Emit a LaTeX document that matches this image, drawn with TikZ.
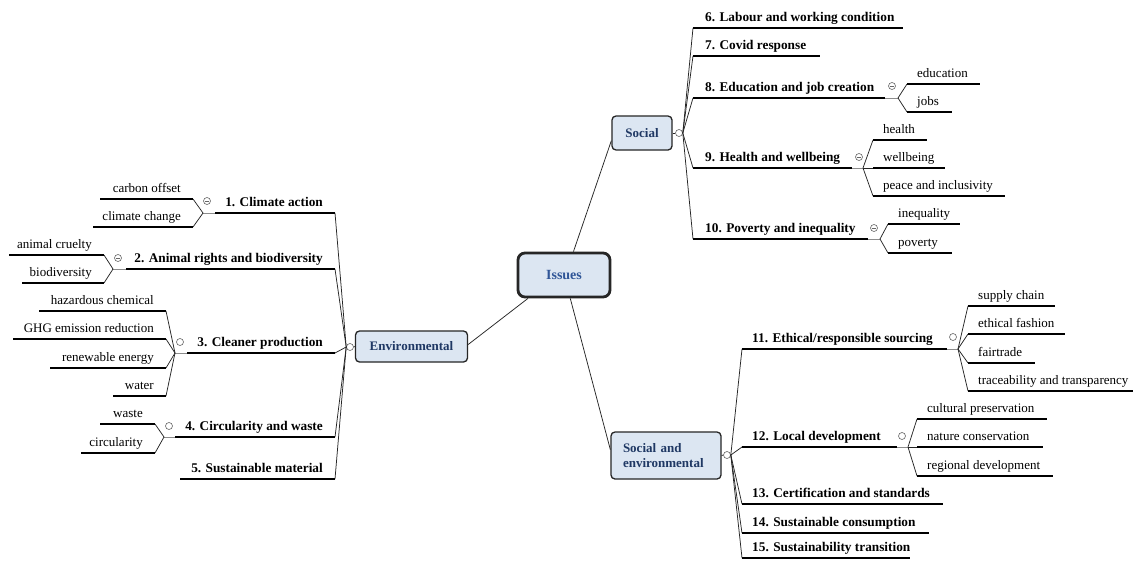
\documentclass[tikz,border=0pt]{standalone}
\usepackage{fontspec}
\setmainfont{Liberation Serif}
\definecolor{boxfill}{HTML}{DCE6F2}
\definecolor{navy}{HTML}{1F3864}
\definecolor{issuesblue}{HTML}{2F5597}
\newcommand\mfont{\fontsize{13}{15}\selectfont\bfseries}
\newcommand\ifont{\fontsize{14}{16}\selectfont\bfseries}
\newcommand\tfont{\fontsize{13.3}{15}\selectfont\bfseries}
\newcommand\sfont{\fontsize{13}{15}\selectfont}
% right item: from, x start, x end, y, text, name, style, text offset
\newcommand\ritem[8]{%
  \coordinate (#6s) at (#2,#4); \coordinate (#6e) at (#3,#4);
  \draw[conn] (#1) -- (#6s); \draw[uline] (#6s) -- (#6e);
  \node[#7, anchor=base west] (#6) at ([xshift=#8pt,yshift=7pt]#6s) {#5};}
% left item: from, x right, x left, y, text, name, style, text offset
\newcommand\litem[8]{%
  \coordinate (#6e) at (#2,#4); \coordinate (#6s) at (#3,#4);
  \draw[conn] (#1) -- (#6e); \draw[uline] (#6s) -- (#6e);
  \node[#7, anchor=base east] (#6) at ([xshift=-#8pt,yshift=7pt]#6e) {#5};}
\begin{document}
\begin{tikzpicture}[x=1pt,y=-1pt,
  mainbox/.style={draw=black!85, line width=1.3pt, rounded corners=4pt, fill=boxfill, font=\mfont, text=navy, inner sep=0pt, align=left},
  topic/.style={font=\tfont, inner sep=0pt},
  sub/.style={font=\sfont, inner sep=0pt},
  uline/.style={line width=2.5pt, black},
  conn/.style={line width=0.75pt, black!85},
  stub/.style={line width=0.75pt, black!45},
  knob/.style={circle, draw=black!60, line width=0.6pt, fill=white, minimum size=7pt, inner sep=0pt},
  knobm/.style={knob, path picture={\draw[black!60, line width=0.5pt] ([xshift=1.4pt]path picture bounding box.west) -- ([xshift=-1.4pt]path picture bounding box.east);}},
]
\useasboundingbox[fill=white] (0,0) rectangle (1135,560);

% main boxes
\node[mainbox, line width=2.8pt, rounded corners=7pt, minimum width=92pt, minimum height=44pt, font=\ifont, text=issuesblue] (issues) at (564,275) {Issues};
\node[mainbox, minimum width=60pt, minimum height=34pt] (social) at (642,133) {Social};
\node[mainbox, minimum width=112pt, minimum height=31pt] (env) at (411.5,346.5) {Environmental};
\node[mainbox, minimum width=110pt, minimum height=47pt, text width=86pt] (se) at (666,455.5) {Social and\\environmental};

\draw[conn] (issues.68) -- (social.194);
\draw[conn] (issues.213) -- (env.2);
\draw[conn] (issues.285) -- (se.174);

% knobs of main branches
\node[knob] (sk) at (679,133) {};
\draw[conn] (social.east) -- (sk.west);
\node[knob] (ek) at (350,347) {};
\draw[conn] (env.west) -- (ek.east);
\node[knob] (sek) at (727,455) {};
\draw[conn] (se.east) -- (sek.west);

% ---------- Environmental ----------
\litem{ek.west}{335}{215}{213}{1. Climate action}{t1}{topic}{12}
\litem{ek.west}{335}{126}{269}{2. Animal rights and biodiversity}{t2}{topic}{12}
\litem{ek.west}{335}{187}{353}{3. Cleaner production}{t3}{topic}{12}
\litem{ek.west}{335}{175}{437}{4. Circularity and waste}{t4}{topic}{12}
\litem{ek.west}{335}{180}{479}{5. Sustainable material}{t5}{topic}{12}

\coordinate (f1) at (203,213); \draw[stub] (t1s) -- (f1);
\litem{f1}{193}{100}{199}{carbon offset}{s1a}{sub}{12}
\litem{f1}{193}{93}{227}{climate change}{s1b}{sub}{12}
\node[knobm] (k1) at (207,201) {};

\coordinate (f2) at (113,269); \draw[stub] (t2s) -- (f2);
\litem{f2}{104}{9}{255}{animal cruelty}{s2a}{sub}{12}
\litem{f2}{104}{22}{283}{biodiversity}{s2b}{sub}{12}
\node[knobm] (k2) at (118,258) {};

\coordinate (f3) at (175,353); \draw[stub] (t3s) -- (f3);
\litem{f3}{166}{39}{311}{hazardous chemical}{s3a}{sub}{12}
\litem{f3}{166}{13}{339}{GHG emission reduction}{s3b}{sub}{12}
\litem{f3}{166}{50}{368}{renewable energy}{s3c}{sub}{12}
\litem{f3}{166}{113}{396}{water}{s3d}{sub}{12}
\node[knob] (k3) at (180,342) {};

\coordinate (f4) at (164,437); \draw[stub] (t4s) -- (f4);
\litem{f4}{155}{100}{424}{waste}{s4a}{sub}{12}
\litem{f4}{155}{81}{453}{circularity}{s4b}{sub}{12}
\node[knob] (k4) at (169,426) {};

% ---------- Social ----------
\ritem{sk.east}{693}{903}{28}{6. Labour and working condition}{t6}{topic}{12}
\ritem{sk.east}{693}{820}{56}{7. Covid response}{t7}{topic}{12}
\ritem{sk.east}{693}{885}{98}{8. Education and job creation}{t8}{topic}{12}
\ritem{sk.east}{693}{852}{168}{9. Health and wellbeing}{t9}{topic}{12}
\ritem{sk.east}{693}{868}{239}{10. Poverty and inequality}{t10}{topic}{12}

\coordinate (f8) at (898,98); \draw[stub] (t8e) -- (f8);
\ritem{f8}{907}{980}{84}{education}{s8a}{sub}{10}
\ritem{f8}{907}{952}{112}{jobs}{s8b}{sub}{10}
\node[knobm] (k8) at (892,86) {};

\coordinate (f9) at (863,168); \draw[stub] (t9e) -- (f9);
\ritem{f9}{873}{927}{140}{health}{s9a}{sub}{10}
\ritem{f9}{873}{945}{168}{wellbeing}{s9b}{sub}{10}
\ritem{f9}{873}{1005}{196}{peace and inclusivity}{s9c}{sub}{10}
\node[knobm] (k9) at (859,157) {};

\coordinate (f10) at (880,239); \draw[stub] (t10e) -- (f10);
\ritem{f10}{888}{960}{224}{inequality}{s10a}{sub}{10}
\ritem{f10}{888}{952}{253}{poverty}{s10b}{sub}{10}
\node[knobm] (k10) at (874,228) {};

% ---------- Social and environmental ----------
\ritem{sek.east}{742}{947}{349}{11. Ethical/responsible sourcing}{t11}{topic}{10}
\ritem{sek.east}{742}{897}{447}{12. Local development}{t12}{topic}{10}
\ritem{sek.east}{742}{943}{504}{13. Certification and standards}{t13}{topic}{10}
\ritem{sek.east}{742}{929}{533}{14. Sustainable consumption}{t14}{topic}{10}
\ritem{sek.east}{742}{910}{558}{15. Sustainability transition}{t15}{topic}{10}

\coordinate (f11) at (958,349); \draw[stub] (t11e) -- (f11);
\ritem{f11}{968}{1055}{306}{supply chain}{s11a}{sub}{10}
\ritem{f11}{968}{1065}{334}{ethical fashion}{s11b}{sub}{10}
\ritem{f11}{968}{1035}{363}{fairtrade}{s11c}{sub}{10}
\ritem{f11}{968}{1133}{391}{traceability and transparency}{s11d}{sub}{10}
\node[knob] (k11) at (953,337) {};

\coordinate (f12) at (908,447); \draw[stub] (t12e) -- (f12);
\ritem{f12}{917}{1047}{419}{cultural preservation}{s12a}{sub}{10}
\ritem{f12}{917}{1043}{447}{nature conservation}{s12b}{sub}{10}
\ritem{f12}{917}{1053}{476}{regional development}{s12c}{sub}{10}
\node[knob] (k12) at (902,436) {};
\end{tikzpicture}
\end{document}
